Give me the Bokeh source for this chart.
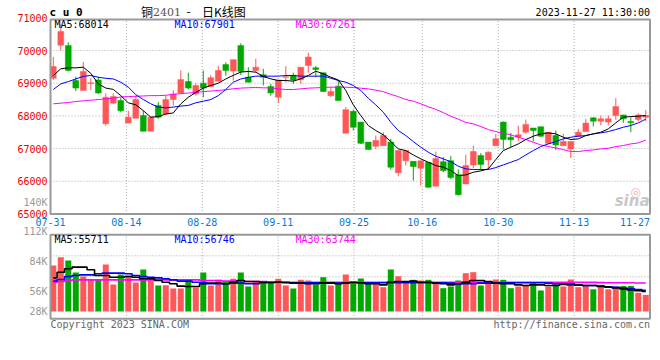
from bokeh.plotting import figure
from bokeh.models import ColumnDataSource, Label, Range1d
from bokeh.embed import file_html
from bokeh.resources import INLINE

dates = ["07-31",
         "08-01", "08-02", "08-03", "08-04", "08-07", "08-08", "08-09", "08-10", "08-11",
         "08-14", "08-15", "08-16", "08-17", "08-18", "08-21", "08-22", "08-23", "08-24", "08-25",
         "08-28", "08-29", "08-30", "08-31", "09-01", "09-04", "09-05", "09-06", "09-07", "09-08",
         "09-11", "09-12", "09-13", "09-14", "09-15", "09-18", "09-19", "09-20", "09-21", "09-22",
         "09-25", "09-26", "09-27", "09-28", "10-09", "10-10", "10-11", "10-12", "10-13",
         "10-16", "10-17", "10-18", "10-19", "10-20", "10-23", "10-24", "10-25", "10-26", "10-27",
         "10-30", "10-31", "11-01", "11-02", "11-03", "11-06", "11-07", "11-08", "11-09", "11-10",
         "11-13", "11-14", "11-15", "11-16", "11-17", "11-20", "11-21", "11-22", "11-23", "11-24",
         "11-27"]
tick_dates = ["07-31", "08-14", "08-28", "09-11", "09-25", "10-16", "10-30", "11-13", "11-27"]

opens = [69150, 70160, 70150, 69080, 68780, 68990, 69100, 67760, 68390, 68470,
         67780, 67930, 68010, 67530, 68320, 68060, 68500, 68700, 69050, 68670,
         69000, 68900, 69060, 69570, 69370, 70150, 69180, 69390, 69260, 68900,
         68570, 69180, 69240, 69110, 69540, 69470, 69320, 68620, 68910, 67470,
         68140, 67810, 67200, 67070, 67090, 67200, 66260, 66630, 66610, 66400,
         66580, 65850, 66600, 66630, 66200, 65920, 66500, 66790, 66650, 67090,
         67810, 67350, 67350, 67500, 67630, 67670, 67160, 67400, 67090, 66990,
         67380, 67520, 67940, 67840, 67810, 68010, 68030, 67830, 67890, 67960]
highs = [69800, 70800, 70250, 69200, 69650, 69160, 69200, 68690, 68690, 68570,
         68160, 68620, 68160, 67990, 68420, 68620, 68780, 69390, 69320, 69000,
         69390, 69250, 69520, 69640, 69720, 70220, 69490, 69745, 69440, 68980,
         69100, 69520, 69320, 69490, 69930, 69520, 69320, 68880, 69080, 68270,
         68190, 67810, 67200, 67400, 67500, 67300, 66940, 66940, 66610, 66630,
         66580, 66910, 66740, 66770, 66360, 66810, 67090, 66860, 66910, 67450,
         67830, 67480, 67700, 67890, 67630, 67670, 67500, 67550, 67450, 67220,
         67600, 67910, 67960, 68010, 68010, 68540, 68030, 67960, 68080, 68180]
lows = [69100, 70000, 69360, 68760, 68780, 68790, 68670, 67700, 68360, 68110,
        67780, 67930, 67530, 67530, 67910, 68010, 68320, 68700, 68810, 68620,
        68570, 68870, 69060, 69230, 69080, 69250, 69030, 69320, 68930, 68620,
        68390, 69030, 68980, 68980, 69320, 69180, 68730, 68570, 68470, 67470,
        67550, 67140, 66970, 66990, 67090, 66360, 66150, 66480, 66020, 65870,
        65800, 65850, 66280, 66070, 65560, 65920, 66400, 66360, 66380, 67090,
        66970, 67040, 67220, 67450, 67220, 67350, 67140, 66960, 67090, 66710,
        67380, 67520, 67680, 67710, 67710, 67880, 67790, 67500, 67830, 67830]
closes = [69510, 70580, 69390, 68850, 69360, 69010, 68700, 68570, 68590, 68160,
          67960, 68500, 67530, 67960, 67960, 68500, 68670, 69110, 68850, 68930,
          68850, 69170, 69390, 69390, 69720, 69360, 69030, 69490, 69180, 68700,
          69100, 69200, 69100, 69490, 69800, 69420, 68750, 68750, 68470, 68190,
          67650, 67160, 66970, 67250, 67400, 66430, 66940, 66940, 66450, 66630,
          65820, 66700, 66330, 66120, 65590, 66480, 66910, 66510, 66890, 67300,
          67280, 67270, 67420, 67740, 67550, 67380, 67500, 67110, 67220, 67220,
          67500, 67780, 67840, 67910, 67910, 68290, 67910, 67790, 68030, 68010]
ma5 = [69235, 69440, 69470, 69470, 69490, 69300, 68980, 68850, 68810, 68620,
       68400, 68340, 68160, 67960, 67980, 68060, 68090, 68370, 68570, 68720,
       68850, 68930, 69000, 69130, 69240, 69340, 69360, 69337, 69204, 69133,
       69082, 69082, 69062, 69133, 69235, 69368, 69286, 69184, 69102, 68776,
       68337, 68010, 67705, 67552, 67419, 67215, 66991, 66940, 66807, 66685,
       66583, 66481, 66430, 66328, 66175, 66195, 66277, 66318, 66379, 66665,
       66940, 67042, 67144, 67277, 67379, 67450, 67481, 67450, 67348, 67277,
       67297, 67399, 67450, 67501, 67603, 67787, 67960, 67980, 67990, 68014]
ma10 = [68807, 68980, 69050, 69130, 69210, 69235, 69180, 69150, 69130, 69030,
        68880, 68650, 68500, 68370, 68270, 68245, 68270, 68300, 68320, 68400,
        68450, 68500, 68620, 68810, 69030, 69130, 69180, 69215, 69215, 69215,
        69215, 69235, 69235, 69215, 69215, 69215, 69215, 69153, 69082, 69031,
        68929, 68776, 68541, 68337, 68113, 67807, 67552, 67399, 67215, 67042,
        66889, 66767, 66685, 66600, 66461, 66379, 66359, 66359, 66359, 66420,
        66501, 66583, 66665, 66807, 66940, 67062, 67144, 67215, 67297, 67348,
        67379, 67399, 67450, 67481, 67521, 67583, 67654, 67705, 67787, 67901]
ma30 = [68370, 68390, 68410, 68440, 68460, 68480, 68500, 68520, 68540, 68580,
        68590, 68600, 68610, 68620, 68620, 68630, 68660, 68680, 68700, 68720,
        68740, 68760, 68780, 68800, 68830, 68850, 68860, 68868, 68858, 68858,
        68827, 68807, 68807, 68827, 68848, 68858, 68868, 68878, 68878, 68878,
        68868, 68848, 68827, 68786, 68740, 68660, 68590, 68500, 68450, 68370,
        68280, 68200, 68100, 67990, 67900, 67800, 67756, 67674, 67583, 67521,
        67470, 67419, 67348, 67277, 67195, 67113, 67062, 67021, 66970, 66909,
        66909, 66940, 66960, 66991, 67011, 67062, 67093, 67144, 67174, 67261]
volumes = [80235, 88062, 84950, 73634, 69862, 66750, 66750, 81178, 62318, 71748,
           70805, 64204, 76463, 66090, 61375, 61658, 58546, 58546, 66750, 59489,
           73634, 61375, 66750, 65147, 67693, 73634, 60432, 65147, 65147, 64204,
           67693, 61375, 58546, 66750, 66090, 62318, 69202, 61375, 62978, 71748,
           63544, 67976, 64487, 63544, 59772, 76463, 70145, 65430, 66750, 66090,
           66750, 63544, 58829, 60432, 66090, 72974, 73917, 61375, 64204, 67033,
           66750, 58829, 60432, 62035, 63544, 56660, 60432, 62318, 60432, 67033,
           59772, 62000, 57800, 62000, 57800, 60500, 61000, 61000, 54500, 52500]
vma5 = [68600, 73900, 77100, 78700, 78700, 76200, 70800, 70800, 69200, 69200,
        69900, 69200, 67700, 67700, 66100, 64500, 63000, 60800, 60400, 60400,
        63000, 63600, 63600, 63000, 64500, 66100, 65200, 65200, 64500, 64500,
        64500, 63900, 63600, 63600, 63000, 63000, 63900, 63900, 63000, 63900,
        64500, 63900, 63000, 63000, 62000, 64500, 65200, 65200, 65500, 64500,
        64500, 63600, 63000, 62000, 63000, 64500, 66100, 66100, 65200, 63600,
        63000, 63000, 62000, 61400, 62000, 62000, 61400, 61400, 62300, 63000,
        62000, 61400, 61400, 60400, 59800, 59000, 58200, 57200, 56400, 55711]
vma10 = [65500, 67000, 69900, 70800, 71400, 71400, 72400, 73000, 73000, 73000,
         72400, 70800, 69900, 69200, 68600, 67700, 66700, 65500, 65500, 64500,
         63900, 63000, 63000, 63000, 63600, 63600, 63000, 63000, 63900, 63900,
         64500, 64500, 63900, 63900, 63900, 63900, 63600, 63600, 63600, 63600,
         63900, 63900, 63900, 63900, 63900, 63900, 63900, 63900, 63900, 63900,
         63900, 63900, 63900, 63600, 63000, 63000, 63000, 63600, 63600, 63900,
         63900, 63900, 63900, 63900, 63900, 63900, 63600, 63000, 63000, 62000,
         62000, 61400, 61400, 60800, 60200, 59600, 59000, 58400, 57600, 56746]
vma30 = [64500, 65200, 66100, 66700, 66700, 66700, 66700, 66700, 66700, 66700,
         66700, 66700, 66700, 66700, 66700, 66700, 66700, 66700, 66700, 66700,
         66100, 66100, 66100, 65500, 65500, 65500, 65200, 65200, 65200, 64500,
         64500, 64500, 64500, 64500, 64500, 64500, 64500, 64500, 64500, 64500,
         64500, 64500, 64500, 64500, 64500, 64500, 64500, 64500, 64500, 64500,
         64500, 64500, 64500, 64500, 64500, 64500, 64500, 64500, 64500, 64500,
         64500, 64500, 64500, 64500, 64500, 64500, 64500, 64500, 64300, 64300,
         64300, 64300, 64300, 64100, 64000, 64000, 63900, 63900, 63800, 63744]
price_ticks = [65000, 66000, 67000, 68000, 69000, 70000, 71000]
price_tick_labels = ["65000", "66000", "67000", "68000", "69000", "70000", "71000"]
vol_ticks = [140000, 112000, 84000, 56000]
vol_tick_labels = ["140K", "112K", "84K", "56K"]
vol_floor_label = "28K"

RED = "#ff5757"
GREEN = "#00a800"
GRID = "#aaaaaa"
MONO = "DejaVu Sans Mono"

# ---- scales: one canvas, two vertical scales (price / volume) ----
W, H = 660, 360
XPX = 1 / 7.5                 # index units per pixel
X0 = -0.373                   # index at left border of the panels
X1 = X0 + 599.5 * XPX         # index at right border
PPX = 1000 / 32.7             # price per pixel
VPX = 28000 / 29.7            # volume per pixel


def x_at(px):
    return X0 + (px - 50) * XPX


def p_at(px):
    return 70000 + (50 - px) * PPX


def v_at(px):
    return 56000 + (290.7 - px) * VPX


n = len(dates)
idx = list(range(n))
tick_pos = [X0 + dates.index(d) * (X1 - X0) / (n - 1) for d in tick_dates]
colors = [RED if c >= o else GREEN for o, c in zip(opens, closes)]
src = ColumnDataSource(dict(
    x=idx, o=opens, h=highs, l=lows, c=closes,
    top=[max(o, c) for o, c in zip(opens, closes)],
    bot=[min(o, c) for o, c in zip(opens, closes)],
    color=colors, vol=volumes,
    ma5=ma5, ma10=ma10, ma30=ma30, vma5=vma5, vma10=vma10, vma30=vma30))

p = figure(width=W, height=H, x_range=Range1d(x_at(0), x_at(W)), y_range=Range1d(p_at(H), p_at(0)),
           output_backend="svg", toolbar_location=None, x_axis_type=None, y_axis_type=None,
           min_border=0)
p.title.visible = False
p.outline_line_color = None
p.background_fill_color = "white"
p.border_fill_color = "white"
p.xgrid.visible = False
p.ygrid.visible = False
p.extra_y_ranges = {"vol": Range1d(v_at(H), v_at(0))}

P_BOT, P_TOP = price_ticks[0], p_at(19)
V_BOT, V_TOP = v_at(318.3), v_at(234.3)
V_BASE = v_at(311)
V_GRID = [v_at(255.3), v_at(276.3), v_at(297.3)]

# grid (dotted)
p.segment(x0=tick_pos[1:-1], y0=P_BOT, x1=tick_pos[1:-1], y1=P_TOP,
          line_color=GRID, line_dash="1 2", line_width=1)
p.segment(x0=X0, y0=price_ticks[1:-1], x1=X1, y1=price_ticks[1:-1],
          line_color=GRID, line_dash="1 2", line_width=1)
p.segment(x0=tick_pos[1:-1], y0=V_BOT, x1=tick_pos[1:-1], y1=V_TOP,
          line_color=GRID, line_dash="1 2", line_width=1, y_range_name="vol")
p.segment(x0=X0, y0=V_GRID, x1=X1, y1=V_GRID,
          line_color=GRID, line_dash="1 2", line_width=1, y_range_name="vol")

# candles
p.segment(x0="x", y0="l", x1="x", y1="h", color="color", line_width=1, source=src)
p.vbar(x="x", width=0.78, top="top", bottom="bot", fill_color="color", line_color="color",
       line_width=0.5, source=src)
p.line("x", "ma30", color="#ff00ff", line_width=1, source=src)
p.line("x", "ma10", color="#0000ff", line_width=1, source=src)
p.line("x", "ma5", color="#000000", line_width=1, source=src)

# volume
p.vbar(x="x", width=0.8, top="vol", bottom=V_BASE, fill_color="color", line_color=None,
       source=src, y_range_name="vol")
p.step("x", "vma30", color="#ff00ff", line_width=1.6, mode="center", source=src, y_range_name="vol")
p.step("x", "vma10", color="#0000ff", line_width=1.6, mode="center", source=src, y_range_name="vol")
p.step("x", "vma5", color="#000000", line_width=1.6, mode="center", source=src, y_range_name="vol")

# panel borders
p.quad(left=X0, right=X1, bottom=P_BOT, top=P_TOP, fill_color=None,
       line_color="#999999", line_width=2)
p.quad(left=X0, right=X1, bottom=V_BOT, top=V_TOP, fill_color=None,
       line_color="#999999", line_width=2, y_range_name="vol")

# tick labels
p.text(x=x_at(47), y=price_ticks, text=price_tick_labels, text_align="right",
       text_baseline="middle", text_color="#ee0000", text_font={"value": MONO},
       text_font_size="10px")
date_align = ["center"] * (len(tick_dates) - 1) + ["right"]
p.text(x=tick_pos, y=p_at(221.5), text=tick_dates, text_align=date_align,
       text_baseline="middle", text_color="#0a78d2", text_font={"value": MONO},
       text_font_size="10px")
p.text(x=x_at(47), y=vol_ticks, text=vol_tick_labels, text_align="right",
       text_baseline="middle", text_color="#999999", text_font={"value": MONO},
       text_font_size="10px", y_range_name="vol")
p.text(x=x_at(47), y=V_BASE, text=[vol_floor_label], text_align="right",
       text_baseline="middle", text_color="#999999", text_font={"value": MONO},
       text_font_size="10px", y_range_name="vol")


def lab(x, y, text, color="black", size="10px", align="left", font=MONO, style="normal",
        rng="default"):
    p.add_layout(Label(x=x, y=y, text=text, text_color=color, text_font=font,
                       text_font_size=size, text_align=align, text_baseline="middle",
                       text_font_style=style, y_range_name=rng))


# header
lab(x_at(49), p_at(11.5), "c u 0", size="11px", style="bold")
lab(x_at(140.5), p_at(11), "铜", size="12px", font="Noto Sans CJK SC")
lab(x_at(152.5), p_at(11.5), "2401", color="#555555", size="11px", font="DejaVu Serif")
lab(x_at(186), p_at(11), "-", size="12px", font="Noto Sans CJK SC")
lab(x_at(201.5), p_at(11), "日K线图", size="12px", font="Noto Sans CJK SC")
lab(x_at(649.5), p_at(11.5), "2023-11-27 11:30:00", align="right")
# MA legends
lab(x_at(54), p_at(24), "MA5:%d" % ma5[-1])
lab(x_at(174), p_at(24), "MA10:%d" % ma10[-1], color="#0000ff")
lab(x_at(295), p_at(24), "MA30:%d" % ma30[-1], color="#ff00ff")
lab(x_at(54), p_at(239), "MA5:%d" % vma5[-1])
lab(x_at(174), p_at(239), "MA10:%d" % vma10[-1], color="#0000ff")
lab(x_at(295), p_at(239), "MA30:%d" % vma30[-1], color="#ff00ff")
# footer
lab(x_at(50), p_at(323.5), "Copyright 2023 SINA.COM", color="#666666")
lab(x_at(649.5), p_at(323.5), "http://finance.sina.com.cn", color="#666666", align="right")
# sina watermark
lab(x_at(635), p_at(191), "◎", color="#f2b5b5", size="12px", align="center", font="DejaVu Sans")
lab(x_at(649), p_at(200.5), "sina", color="#c8c8c8", size="15px", align="right",
    font="DejaVu Sans", style="bold italic")

open("out.html", "w").write(file_html(p, INLINE))
